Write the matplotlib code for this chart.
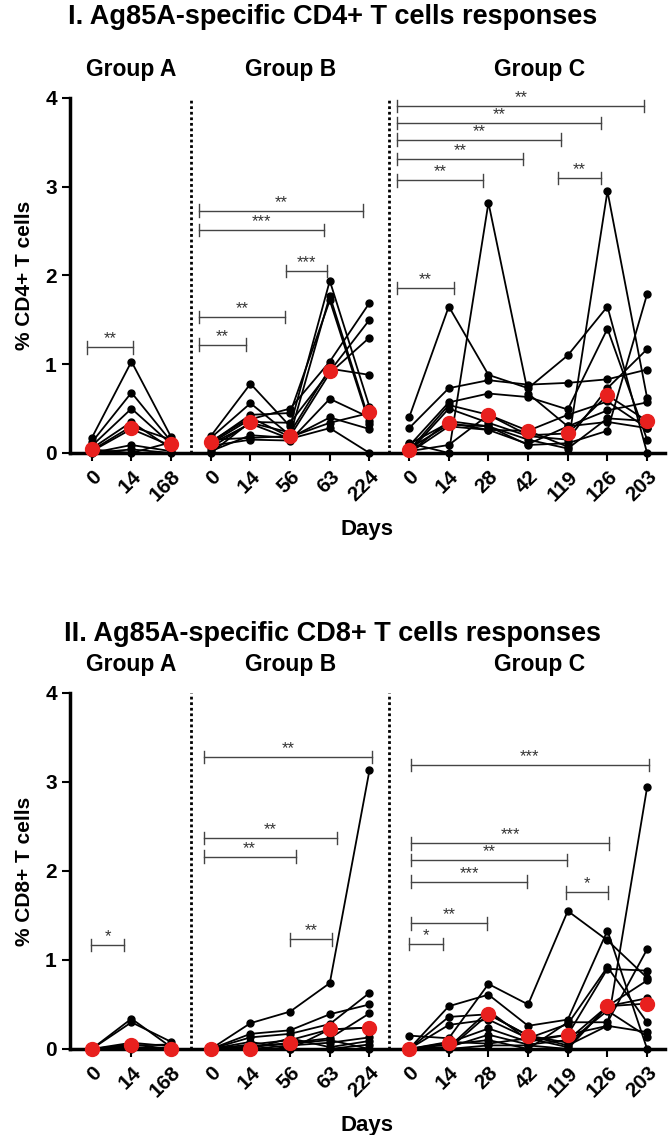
import matplotlib.pyplot as plt
import numpy as np

plt.rcParams['font.family'] = ['Liberation Sans', 'DejaVu Sans']

# ---- x layout: one axis with three groups of time points ----
days_a = ["0", "14", "168"]
days_b = ["0", "14", "56", "63", "224"]
days_c = ["0", "14", "28", "42", "119", "126", "203"]
day_labels = days_a + days_b + days_c
pos_a = np.arange(0, 3)
pos_b = np.arange(3, 8)
pos_c = np.arange(8, 15)
group_names = ["Group A", "Group B", "Group C"]

# ---- CD4+ responses (one row per subject) ----
cd4_a = [
    [0.17, 1.03, 0.18],
    [0.12, 0.68, 0.13],
    [0.08, 0.50, 0.10],
    [0.05, 0.35, 0.05],
    [0.03, 0.30, 0.15],
    [0.02, 0.27, 0.08],
    [0.00, 0.09, 0.02],
    [0.00, 0.04, 0.00],
    [0.04, 0.00, 0.12],
]
cd4_a_med = [0.05, 0.28, 0.10]

cd4_b = [
    [0.19, 0.78, 0.30, 1.94, 0.52],
    [0.17, 0.56, 0.20, 1.77, 0.36],
    [0.12, 0.43, 0.45, 1.72, 0.33],
    [0.11, 0.38, 0.50, 1.03, 1.69],
    [0.06, 0.34, 0.23, 0.95, 0.88],
    [0.00, 0.35, 0.34, 0.92, 1.50],
    [0.15, 0.17, 0.19, 0.90, 1.30],
    [0.08, 0.15, 0.14, 0.61, 0.40],
    [0.02, 0.20, 0.17, 0.40, 0.27],
    [0.10, 0.33, 0.16, 0.28, 0.00],
    [0.13, 0.40, 0.18, 0.34, 0.45],
]
cd4_b_med = [0.12, 0.35, 0.19, 0.92, 0.46]

cd4_c = [
    [0.40, 1.65, 0.88, 0.73, 1.10, 1.65, 0.00],
    [0.28, 0.73, 0.82, 0.77, 0.79, 0.83, 0.94],
    [0.11, 0.00, 2.82, 0.67, 0.30, 0.48, 0.57],
    [0.08, 0.57, 0.67, 0.63, 0.49, 1.40, 0.15],
    [0.03, 0.54, 0.43, 0.25, 0.07, 2.95, 0.62],
    [0.01, 0.50, 0.34, 0.19, 0.15, 0.73, 1.17],
    [0.05, 0.32, 0.30, 0.09, 0.11, 0.25, 1.79],
    [0.00, 0.30, 0.26, 0.25, 0.43, 0.58, 0.28],
    [0.02, 0.09, 0.43, 0.20, 0.22, 0.65, 0.36],
    [0.00, 0.36, 0.30, 0.15, 0.05, 0.39, 0.36],
    [0.10, 0.34, 0.26, 0.10, 0.30, 0.35, 0.28],
]
cd4_c_med = [0.03, 0.34, 0.43, 0.25, 0.22, 0.65, 0.36]

# brackets: (x start, x end, height, stars)
cd4_sig = [
    (-0.12, 1.04, 1.19, "**"),
    (2.71, 6.84, 2.73, "**"),
    (2.71, 5.86, 2.51, "***"),
    (4.90, 5.92, 2.05, "***"),
    (2.71, 4.87, 1.53, "**"),
    (2.71, 3.89, 1.22, "**"),
    (7.70, 13.93, 3.91, "**"),
    (7.70, 12.85, 3.72, "**"),
    (7.70, 11.83, 3.53, "**"),
    (7.70, 10.86, 3.31, "**"),
    (7.70, 9.86, 3.07, "**"),
    (11.75, 12.84, 3.10, "**"),
    (7.70, 9.13, 1.86, "**"),
]

# ---- CD8+ responses ----
cd8_a = [
    [0.00, 0.34, 0.02],
    [0.00, 0.30, 0.08],
    [0.00, 0.07, 0.03],
    [0.00, 0.05, 0.00],
    [0.00, 0.04, 0.05],
    [0.00, 0.02, 0.00],
    [0.00, 0.01, 0.01],
    [0.00, 0.00, 0.00],
]
cd8_a_med = [0.00, 0.05, 0.00]

cd8_b = [
    [0.00, 0.29, 0.42, 0.74, 3.13],
    [0.00, 0.17, 0.21, 0.39, 0.50],
    [0.00, 0.13, 0.17, 0.28, 0.63],
    [0.00, 0.05, 0.10, 0.22, 0.24],
    [0.00, 0.02, 0.07, 0.12, 0.40],
    [0.00, 0.00, 0.04, 0.07, 0.13],
    [0.00, 0.08, 0.00, 0.22, 0.24],
    [0.00, 0.00, 0.12, 0.02, 0.09],
    [0.00, 0.00, 0.00, 0.00, 0.05],
    [0.00, 0.03, 0.06, 0.10, 0.00],
]
cd8_b_med = [0.00, 0.00, 0.07, 0.22, 0.24]

cd8_c = [
    [0.15, 0.12, 0.73, 0.50, 1.55, 1.22, 0.80],
    [0.00, 0.48, 0.61, 0.26, 0.33, 1.33, 0.00],
    [0.00, 0.36, 0.39, 0.15, 0.04, 0.26, 2.94],
    [0.00, 0.27, 0.33, 0.12, 0.28, 0.92, 0.30],
    [0.00, 0.07, 0.23, 0.08, 0.16, 0.90, 0.88],
    [0.00, 0.02, 0.16, 0.05, 0.10, 0.48, 0.57],
    [0.00, 0.00, 0.39, 0.15, 0.07, 0.43, 0.14],
    [0.00, 0.05, 0.10, 0.00, 0.30, 0.30, 1.12],
    [0.00, 0.08, 0.06, 0.12, 0.02, 0.48, 0.51],
    [0.00, 0.02, 0.43, 0.10, 0.16, 0.26, 0.19],
    [0.00, 0.00, 0.04, 0.04, 0.00, 0.48, 0.77],
]
cd8_c_med = [0.00, 0.07, 0.39, 0.15, 0.16, 0.48, 0.51]

cd8_sig = [
    (-0.02, 0.82, 1.17, "*"),
    (2.82, 7.07, 3.28, "**"),
    (2.82, 6.19, 2.37, "**"),
    (2.82, 5.14, 2.16, "**"),
    (5.00, 6.05, 1.23, "**"),
    (8.04, 14.05, 3.19, "***"),
    (8.04, 13.05, 2.31, "***"),
    (8.04, 11.99, 2.12, "**"),
    (8.04, 10.98, 1.88, "***"),
    (11.96, 13.02, 1.76, "*"),
    (8.04, 9.97, 1.41, "**"),
    (8.00, 8.86, 1.18, "*"),
]


def draw_panel(ax, groups, sig, ylabel):
    for pos, subjects, med in groups:
        for s in subjects:
            ax.plot(pos, s, color="black", lw=1.3, marker="o", ms=5,
                    clip_on=False, zorder=3)
        ax.plot(pos, med, ls="none", marker="o", ms=10, color="#e8201e",
                mec="#e8201e", clip_on=False, zorder=4)

    for xd in (2.5, 7.5):
        ax.axvline(xd, ymin=0, ymax=1, color="black", ls=(0, (1, 1)), lw=2)

    for x0, x1, h, stars in sig:
        ax.plot([x0, x1], [h, h], color="#444444", lw=1)
        for xe in (x0, x1):
            ax.plot([xe, xe], [h - 0.07, h + 0.07], color="#444444", lw=1)
        ax.text((x0 + x1) / 2, h + 0.01, stars, ha="center", va="bottom",
                fontsize=12, color="#333333")

    ax.set_xlim(-0.55, 14.45)
    ax.set_ylim(0, 4)
    ax.set_yticks([0, 1, 2, 3, 4])
    ax.set_xticks(np.arange(15))
    ax.set_xticklabels(day_labels, rotation=45, ha="right",
                       rotation_mode="anchor", fontsize=15, fontweight="bold")
    for lab in ax.get_yticklabels():
        lab.set_fontsize(15)
        lab.set_fontweight("bold")
    ax.tick_params(axis="both", length=6, width=1.5, direction="out")
    ax.tick_params(axis="x", pad=4)
    for sp in ("top", "right"):
        ax.spines[sp].set_visible(False)
    for sp in ("left", "bottom"):
        ax.spines[sp].set_linewidth(2.5)
    ax.set_ylabel(ylabel, fontsize=15, fontweight="bold", labelpad=8)
    ax.set_xlabel("Days", fontsize=16, fontweight="bold", labelpad=10)

    centers = [1.0, 5.0, 11.3]
    for c, name in zip(centers, group_names):
        ax.text(c, 4.32, name, ha="center", va="center", fontsize=16.5,
                fontweight="bold")


fig = plt.figure(figsize=(6.71, 11.35), dpi=100)

ax1 = fig.add_axes([0.1043, 0.6009, 0.8867, 0.3128])
draw_panel(ax1, [(pos_a, cd4_a, cd4_a_med), (pos_b, cd4_b, cd4_b_med),
                 (pos_c, cd4_c, cd4_c_med)], cd4_sig, "% CD4+ T cells")
fig.text(0.495, 0.985, "I. Ag85A-specific CD4+ T cells responses",
         ha="center", va="center", fontsize=19.5, fontweight="bold")

ax2 = fig.add_axes([0.1043, 0.0758, 0.8867, 0.3137])
draw_panel(ax2, [(pos_a, cd8_a, cd8_a_med), (pos_b, cd8_b, cd8_b_med),
                 (pos_c, cd8_c, cd8_c_med)], cd8_sig, "% CD8+ T cells")
fig.text(0.495, 0.441, "II. Ag85A-specific CD8+ T cells responses",
         ha="center", va="center", fontsize=19.5, fontweight="bold")

fig.savefig("out.png", dpi=100)
